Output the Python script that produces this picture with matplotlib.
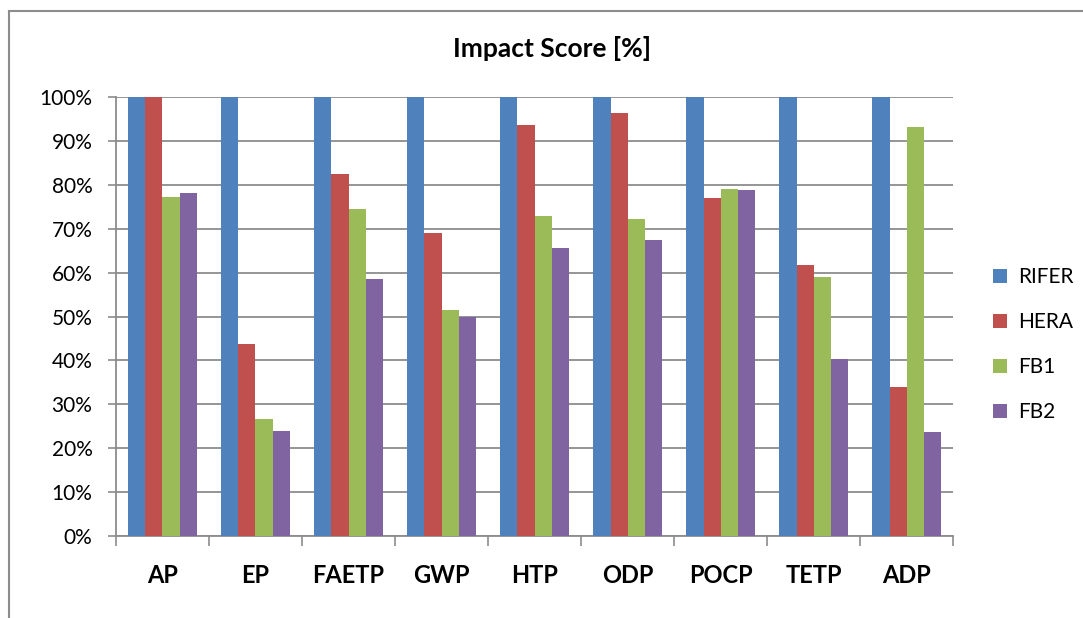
import numpy as np
import matplotlib.pyplot as plt
from matplotlib.lines import Line2D

categories = ["AP", "EP", "FAETP", "GWP", "HTP", "ODP", "POCP", "TETP", "ADP"]
series_names = ["RIFER", "HERA", "FB1", "FB2"]
rifer = [100, 100, 100, 100, 100, 100, 100, 100, 100]
hera = [100, 43.8, 82.5, 69.0, 93.6, 96.4, 77.0, 61.8, 34.0]
fb1 = [77.2, 26.7, 74.5, 51.5, 72.9, 72.2, 79.0, 58.9, 93.2]
fb2 = [78.1, 23.9, 58.6, 49.9, 65.6, 67.4, 78.8, 40.4, 23.8]
colors = ["#4F81BD", "#C0504D", "#9BBB59", "#8064A2"]

plt.rcParams['font.family'] = ['Lato', 'DejaVu Sans']

fig = plt.figure(figsize=(10.83, 6.18), dpi=100)
ax = fig.add_axes([0.1071, 0.1327, 0.7729, 0.7103])

x = np.arange(len(categories))
width = 0.183
for i, (vals, name) in enumerate(zip([rifer, hera, fb1, fb2], series_names)):
    ax.bar(x + (i - 1.5) * width, vals, width, color=colors[i], label=name, zorder=3)

ax.set_xlim(-0.5, len(categories) - 0.5)
ax.set_ylim(0, 100)
ax.set_yticks(np.arange(0, 101, 10))
ax.set_yticklabels(["{}%".format(v) for v in range(0, 101, 10)], fontsize=15)
ax.yaxis.grid(True, color="#8c8c8c", linewidth=1.3, zorder=0)
ax.tick_params(axis="y", length=6, width=1.2, color="#8c8c8c", pad=11)

ax.set_xticks(x)
ax.set_xticklabels(categories, fontsize=17, fontweight="bold")
ax.tick_params(axis="x", which="major", length=0, pad=20)
ax.set_xticks(np.arange(-0.5, len(categories), 1), minor=True)
ax.tick_params(axis="x", which="minor", length=7, width=1.2, color="#8c8c8c")

for s in ["top", "right"]:
    ax.spines[s].set_visible(False)
for s in ["left", "bottom"]:
    ax.spines[s].set_color("#8c8c8c")
    ax.spines[s].set_linewidth(1.3)

fig.text(0.51, 0.922, "Impact Score [%]", fontsize=19, fontweight="bold",
         ha="center", va="center")

ax.legend(loc="center left", bbox_to_anchor=(1.035, 0.436), frameon=False,
          fontsize=15, handlelength=0.7, handleheight=0.7, handletextpad=0.5,
          labelspacing=1.2, borderpad=0)

# outer frame of the chart
fig.add_artist(Line2D([0.0083, 1.0], [0.982, 0.982], color="#8c8c8c", linewidth=1.5))
fig.add_artist(Line2D([0.0083, 0.0083], [0.0, 0.982], color="#8c8c8c", linewidth=1.5))

fig.savefig("out.png", dpi=100)
